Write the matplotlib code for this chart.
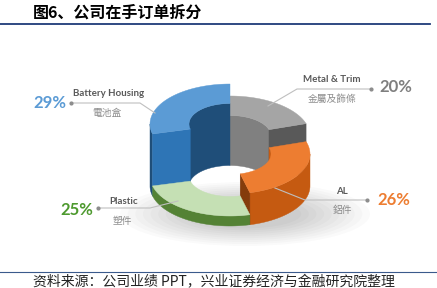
import numpy as np
import matplotlib.pyplot as plt
from matplotlib.patches import Polygon, Ellipse

plt.rcParams['font.family'] = ['Noto Sans CJK SC', 'DejaVu Sans']

# data (clockwise from 12 o'clock)
names_en = ["Metal & Trim", "AL", "Plastic", "Battery Housing"]
names_cn = ["金屬及飾條", "鋁件", "塑件", "電池盒"]
shares = [20, 26, 25, 29]

# 3d look: segment heights and colours (Office palette)
heights = [50, 32, 10, 62]
top_col = ["#A5A5A5", "#ED7D31", "#C5E0B4", "#5B9BD5"]
outer_col = ["#7F7F7F", "#C55A11", "#548235", "#1F4E79"]
inner_col = ["#808080", "#C55A11", "#548235", "#1F4E79"]
cap_col = ["#595959", "#843C0C", "#548235", "#2E75B6"]
pct_col = ["#7F7F7F", "#ED7D31", "#4E9A2F", "#5B9BD5"]

CX, CY, RO, RI, K = 230, 186, 80, 41, 0.5


def pt(r, th, z):
    t = np.radians(th)
    return np.column_stack([CX + r * np.cos(t), CY - r * K * np.sin(t) - z])


def arc(r, a, b, z, n=60):
    return pt(r, np.linspace(a, b, n), z)


def parts(lo, hi, s0, s1):
    # pieces of [lo, hi] that fall in [s0 + 360n, s1 + 360n]
    out = []
    for n in range(-2, 2):
        a, b = max(lo, s0 + 360 * n), min(hi, s1 + 360 * n)
        if b > a:
            out.append((a, b))
    return out


def wall(ax, r, a, b, h, col):
    poly = np.vstack([arc(r, a, b, 0), arc(r, b, a, h)])
    ax.add_patch(Polygon(poly, closed=True, fc=col, ec=col, lw=0.3))


fig = plt.figure(figsize=(4.37, 2.88), dpi=100)
ax = fig.add_axes([0, 0, 1, 1])
ax.set_xlim(0, 437)
ax.set_ylim(288, 0)
ax.axis("off")

# soft floor shadow
for s in np.linspace(1.0, 0.45, 10):
    ax.add_patch(Ellipse((245, 214), 250 * s, 64 * s, color="#000000", alpha=0.018, lw=0))

# angles
his, los = [], []
start = 90
for v in shares:
    his.append(start)
    start -= v * 3.6
    los.append(start)

mids = [np.sin(np.radians((a + b) / 2)) for a, b in zip(los, his)]
order = np.argsort(mids)[::-1]  # far first

for i in order:
    lo, hi, h = los[i], his[i], heights[i]
    # inner wall, seen on far side
    for a, b in parts(lo, hi, 0, 180):
        wall(ax, RI, a, b, h, inner_col[i])
    # outer wall, seen on near side
    for a, b in parts(lo, hi, -180, 0):
        wall(ax, RO, a, b, h, outer_col[i])
    # end caps facing viewer
    for th, vis in ((lo, np.cos(np.radians(lo)) > 0), (hi, np.cos(np.radians(hi)) < 0)):
        if vis:
            p = np.vstack([pt(RI, [th], 0), pt(RO, [th], 0), pt(RO, [th], h), pt(RI, [th], h)])
            ax.add_patch(Polygon(p, closed=True, fc=cap_col[i], ec=cap_col[i], lw=0.3))
    top = np.vstack([arc(RO, lo, hi, h), arc(RI, hi, lo, h)])
    ax.add_patch(Polygon(top, closed=True, fc=top_col[i], ec=top_col[i], lw=0.3))

# labels with leader lines
lead = "#BFBFBF"
txt = "#595959"
cn = "#8C8C8C"

# Battery Housing
ax.plot([71, 140, 155], [103, 103, 113], color=lead, lw=0.8)
ax.plot(71, 103, "o", ms=2, color="#8C8C8C")
ax.text(50, 103, f"{shares[3]}%", color=pct_col[3], fontsize=12, fontweight="bold",
        family="Lato", ha="center", va="center")
ax.text(109, 93, names_en[3], color=txt, fontsize=7, fontweight="bold", family="Lato",
        ha="center", va="center")
ax.text(107, 113, names_cn[3], color=cn, fontsize=7, family="Noto Sans CJK TC",
        ha="center", va="center")

# Metal & Trim
ax.plot([371, 297, 268], [89, 89, 106], color=lead, lw=0.8)
ax.plot(371, 89, "o", ms=2, color="#8C8C8C")
ax.text(396, 87, f"{shares[0]}%", color=pct_col[0], fontsize=12, fontweight="bold",
        family="Lato", ha="center", va="center")
ax.text(332, 79, names_en[0], color=txt, fontsize=7, fontweight="bold", family="Lato",
        ha="center", va="center")
ax.text(332, 99, names_cn[0], color=cn, fontsize=7, family="Noto Sans CJK TC",
        ha="center", va="center")

# AL
ax.plot([367, 305, 275], [200, 200, 188], color=lead, lw=0.8)
ax.plot(367, 200, "o", ms=2, color="#8C8C8C")
ax.text(394, 200, f"{shares[1]}%", color=pct_col[1], fontsize=12, fontweight="bold",
        family="Lato", ha="center", va="center")
ax.text(342, 191, names_en[1], color=txt, fontsize=7, fontweight="bold", family="Lato",
        ha="center", va="center")
ax.text(342, 210, names_cn[1], color=cn, fontsize=7, family="Noto Sans CJK TC",
        ha="center", va="center")

# Plastic
ax.plot([98, 150, 178], [208, 208, 201], color=lead, lw=0.8)
ax.plot(98, 208, "o", ms=2, color="#8C8C8C")
ax.text(77, 210, f"{shares[2]}%", color=pct_col[2], fontsize=12, fontweight="bold",
        family="Lato", ha="center", va="center")
ax.text(124, 201, names_en[2], color=txt, fontsize=7, fontweight="bold", family="Lato",
        ha="center", va="center")
ax.text(122, 221, names_cn[2], color=cn, fontsize=7, family="Noto Sans CJK TC",
        ha="center", va="center")

# title, rules and source
ax.text(33, 13, "图6、公司在手订单拆分", fontsize=11.5, fontweight="bold", color="#000000",
        ha="left", va="center")
ax.plot([0, 430], [24, 24], color="#1F3A78", lw=1.3)
ax.plot([0, 437], [272, 272], color="#3A5A8C", lw=0.8)
ax.text(33, 282, "资料来源：公司业绩 PPT，兴业证券经济与金融研究院整理", fontsize=10,
        color="#222222", ha="left", va="center")

fig.savefig("out.png", dpi=100)
